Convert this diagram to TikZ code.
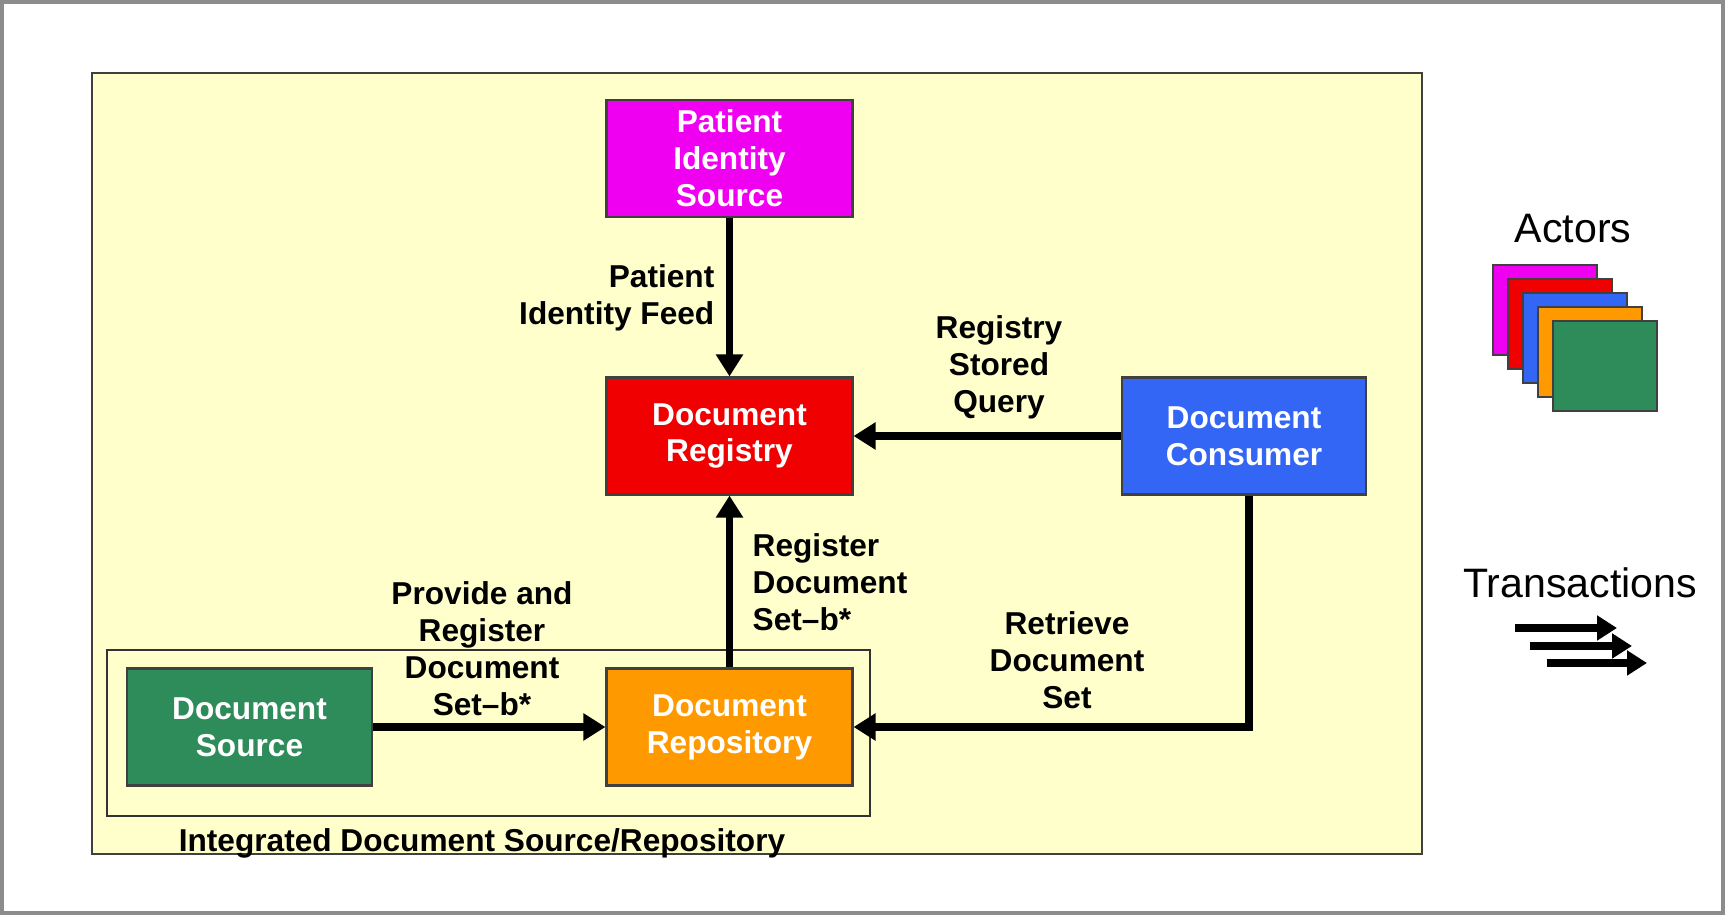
\documentclass[tikz,border=0pt]{standalone}
\usepackage{fontspec}
\setmainfont{Liberation Sans}
\usetikzlibrary{arrows.meta}

\definecolor{pisColor}{RGB}{240,0,240}
\definecolor{regColor}{RGB}{240,0,0}
\definecolor{consColor}{RGB}{51,102,245}
\definecolor{repoColor}{RGB}{255,153,0}
\definecolor{srcColor}{RGB}{46,140,90}
\definecolor{panelColor}{RGB}{255,255,204}

\tikzset{
  actor/.style={draw=black!75, line width=0.6pt, minimum width=2.46cm, minimum height=1.17cm,
    inner sep=0pt, align=center, text=white, font=\fontsize{9}{10.5}\selectfont\bfseries},
  trans/.style={line width=2pt, -{Triangle[length=2.2mm,width=2.6mm]}},
  translabel/.style={inner sep=0pt, font=\fontsize{9}{10.5}\selectfont\bfseries},
  legendtext/.style={inner sep=0pt, font=\fontsize{11.7}{13}\selectfont},
  legendbox/.style={draw=black!75, line width=0.5pt, minimum width=1.04cm, minimum height=0.9cm, inner sep=0pt}
}

\begin{document}
\begin{tikzpicture}
\useasboundingbox (0,0) rectangle (17.25,9.15);
\draw[black!45, line width=1pt] (0.02,0.02) rectangle (17.23,9.13);
\fill[panelColor] (0.92,0.61) rectangle (14.22,8.42);
\draw[black!75, line width=0.8pt] (0.92,0.61) rectangle (14.22,8.42);

% integrated actor frame
\draw[black!80, line width=0.6pt] (1.07,0.99) rectangle (8.70,2.65);
\node[translabel] (intlabel) at (4.82,0.72) {Integrated Document Source/Repository};

% actors
\node[actor, fill=pisColor] (pis) at (7.295,7.565) {Patient\\Identity\\Source};
\node[actor, fill=regColor] (reg) at (7.295,4.79) {Document\\Registry};
\node[actor, fill=consColor, minimum width=2.44cm] (cons) at (12.44,4.79) {Document\\Consumer};
\node[actor, fill=srcColor, minimum width=2.45cm] (src) at (2.495,1.88) {Document\\Source};
\node[actor, fill=repoColor] (repo) at (7.295,1.88) {Document\\Repository};

% transactions
\draw[trans] (pis) -- (reg);
\draw[trans] (cons) -- (reg);
\draw[trans] (repo) -- (reg);
\draw[trans] (src) -- (repo);
\draw[trans] ([xshift=0.05cm]cons.south) |- (repo.east);

\node[translabel, align=right, anchor=east] (pidfeed) at (7.15,6.17) {Patient\\Identity Feed};
\node[translabel, align=center] (rsq) at (9.99,5.48) {Registry\\Stored\\Query};
\node[translabel, align=left, anchor=west] (rds) at (7.52,3.33) {Register\\Document\\Set--b*};
\node[translabel, align=center] (prds) at (4.82,2.665) {Provide and\\Register\\Document\\Set--b*};
\node[translabel, align=center] (rtds) at (10.67,2.55) {Retrieve\\Document\\Set};

% legend
\node[legendtext] (actors) at (15.73,6.86) {Actors};
\foreach \c [count=\i from 0] in {pisColor,regColor,consColor,repoColor,srcColor}
  \node[legendbox, fill=\c] (sq\i) at (15.45+0.15*\i,6.05-0.14*\i) {};
\node[legendtext] (transactions) at (15.80,3.32) {Transactions};
\foreach \i/\xa/\xb/\y in {1/15.15/16.17/2.87, 2/15.30/16.32/2.69, 3/15.47/16.47/2.52} {
  \coordinate (ta\i) at (\xa,\y);
  \coordinate (tb\i) at (\xb,\y);
  \draw[line width=2pt, -{Triangle[length=2mm,width=2.4mm]}] (ta\i) -- (tb\i);
}
\end{tikzpicture}
\end{document}
